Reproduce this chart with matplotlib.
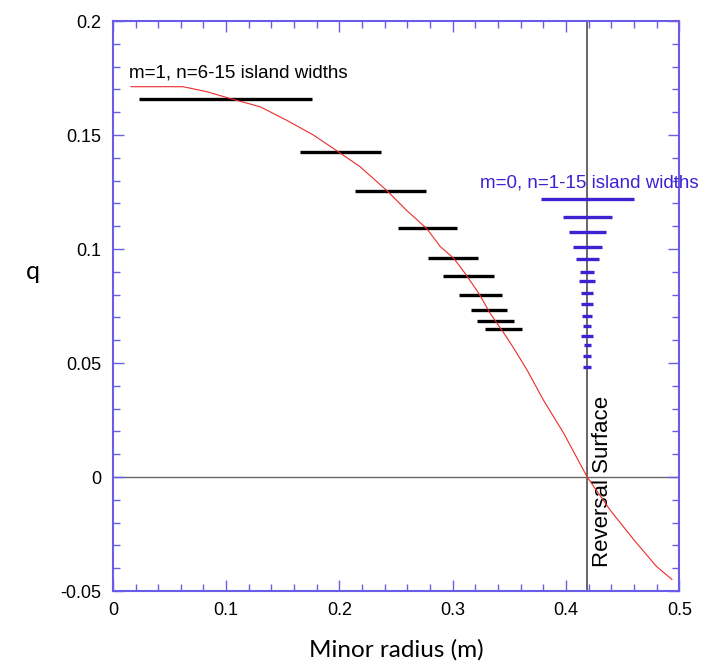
import matplotlib.pyplot as plt
from matplotlib.ticker import MultipleLocator

plt.rcParams['font.family'] = ['Liberation Sans', 'DejaVu Sans']

# q profile (red curve)
r_prof = [0.016, 0.062, 0.083, 0.103, 0.130, 0.153, 0.177, 0.198, 0.218, 0.242, 0.259,
          0.277, 0.289, 0.301, 0.312, 0.324, 0.333, 0.346, 0.356, 0.366, 0.380, 0.398,
          0.4187, 0.439, 0.460, 0.480, 0.4935]
q_prof = [0.1712, 0.1712, 0.169, 0.1661, 0.1624, 0.1566, 0.150, 0.143, 0.1362, 0.1256,
          0.1171, 0.109, 0.1011, 0.0959, 0.0886, 0.0798, 0.0718, 0.0625, 0.0548, 0.0466,
          0.0338, 0.0192, 0.0, -0.0145, -0.0276, -0.0393, -0.0449]

# m=1 island widths (n=6..15): q, left, right
m1_q = [0.1658, 0.1425, 0.1254, 0.1092, 0.0961, 0.0882, 0.0798, 0.0732, 0.0684, 0.0649]
m1_left = [0.023, 0.165, 0.214, 0.2518, 0.278, 0.2915, 0.3057, 0.3163, 0.3216, 0.3286]
m1_right = [0.176, 0.2367, 0.2765, 0.304, 0.3224, 0.3366, 0.3436, 0.348, 0.3542, 0.3613]

# m=0 island widths (n=1..15): q, half width, around reversal surface
r_rev = 0.4187
m0_q = [0.1219, 0.114, 0.1075, 0.1009, 0.0956, 0.0899, 0.086, 0.0807, 0.0759, 0.0706,
        0.0662, 0.0618, 0.0579, 0.0531, 0.0482]
m0_half = [0.041, 0.0216, 0.0163, 0.0128, 0.0103, 0.006, 0.0068, 0.0055, 0.0055, 0.0044,
           0.0035, 0.0055, 0.003, 0.0035, 0.0035]

x_ticks = [0, 0.1, 0.2, 0.3, 0.4, 0.5]
x_labels = ['0', '0.1', '0.2', '0.3', '0.4', '0.5']
y_ticks = [-0.05, 0, 0.05, 0.1, 0.15, 0.2]
y_labels = ['-0.05', '0', '0.05', '0.1', '0.15', '0.2']

blue = '#3d22d4'
axcol = '#6a5ce6'

fig = plt.figure(figsize=(7.01, 6.66), dpi=100)
ax = fig.add_axes([0.161, 0.1126, 0.808, 0.8558])

ax.axhline(0, color='#666666', lw=1.0, zorder=1)
ax.axvline(r_rev, color='#666666', lw=1.4, zorder=1)

ax.hlines(m1_q, m1_left, m1_right, color='black', lw=2.4, zorder=3)
ax.hlines(m0_q, [r_rev - h for h in m0_half], [r_rev + h for h in m0_half],
          color=blue, lw=2.4, zorder=3)

ax.plot(r_prof, q_prof, color='#ee2a2a', lw=0.8, zorder=4)

ax.text(0.014, 0.177, 'm=1, n=6-15 island widths', fontsize=13.5, color='black', va='center')
ax.text(0.324, 0.129, 'm=0, n=1-15 island widths', fontsize=13.5, color=blue, va='center',
        clip_on=False)
ax.text(0.4325, -0.002, 'Reversal Surface', fontsize=16, rotation=90,
        ha='center', va='center')

ax.set_xlim(0, 0.5)
ax.set_ylim(-0.05, 0.2)
ax.set_xticks(x_ticks)
ax.set_xticklabels(x_labels)
ax.set_yticks(y_ticks)
ax.set_yticklabels(y_labels)
ax.xaxis.set_minor_locator(MultipleLocator(0.02))
ax.yaxis.set_minor_locator(MultipleLocator(0.01))
ax.tick_params(which='both', direction='in', top=True, right=True, color=axcol,
               labelsize=13, width=1.0)
ax.tick_params(which='major', length=8, pad=8)
ax.tick_params(which='minor', length=5)
for s in ax.spines.values():
    s.set_color(axcol)
    s.set_linewidth(1.5)

ax.set_xlabel('Minor radius (m)', fontsize=17.5, family='Lato', labelpad=14)
ax.set_ylabel('q', fontsize=18, family='Lato', rotation=0, va='center')
ax.yaxis.set_label_coords(-0.141, 0.56)

fig.savefig('out.png', dpi=100)
